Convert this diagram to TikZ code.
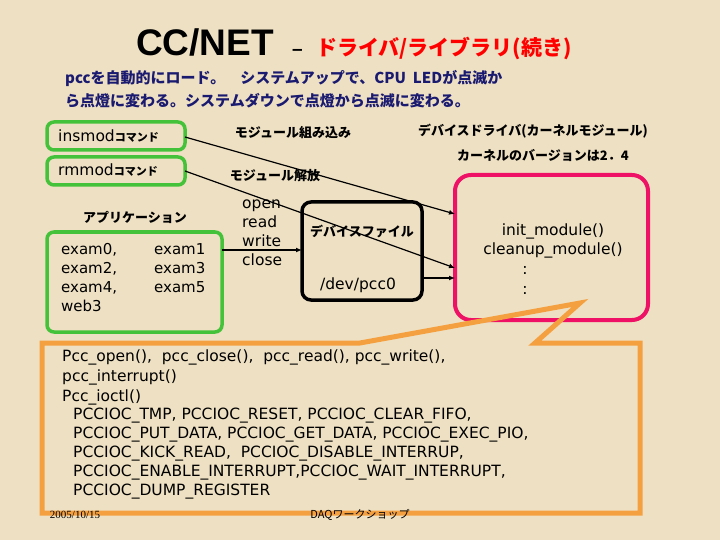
\documentclass[tikz,border=0pt]{standalone}
\usepackage{fontspec}
\setmainfont{Liberation Sans}
\newfontfamily\jp{Noto Sans CJK JP}
\newfontfamily\wide{DejaVu Sans}
\usetikzlibrary{arrows.meta}
\definecolor{bg}{HTML}{EEE0C2}
\definecolor{navy}{HTML}{1A1A70}
\definecolor{grn}{HTML}{44C23A}
\definecolor{pnk}{HTML}{EE1166}
\definecolor{org}{HTML}{F5A040}
\tikzset{
 gbox/.style={draw=grn,line width=3.5pt,rounded corners=7pt},
 conn/.style={-{Latex[length=6pt,width=5pt]},line width=1.2pt},
 jl/.style={font=\jp\bfseries\fontsize{13}{15}\selectfont,inner sep=0},
 tx/.style={font=\wide\fontsize{15.5}{17}\selectfont,inner sep=0,anchor=west},
 ot/.style={font=\wide\fontsize{15.5}{18}\selectfont,inner sep=0,anchor=west}
}
\begin{document}
\begin{tikzpicture}[x=1pt,y=-1pt]
\fill[bg] (0,0) rectangle (720,540);
\useasboundingbox (0,0) rectangle (720,540);
\node[inner sep=0,font=\bfseries\fontsize{37}{40}\selectfont,anchor=base] (t1) at (205,56) {CC/NET};
\node[inner sep=0,anchor=base west,font=\bfseries\fontsize{19}{22}\selectfont] (t0) at (292,56) {–};
\node[inner sep=0,anchor=base west,text=red,font=\jp\bfseries\fontsize{21}{24}\selectfont] (t2) at (316,56) {ドライバ/ライブラリ(続き)};
\node[inner sep=0,anchor=base west,text=navy,font=\jp\bfseries\fontsize{15}{18}\selectfont] (s1) at (65,84) {pccを自動的にロード。\quad システムアップで、CPU\ \ LEDが点滅か};
\node[inner sep=0,anchor=base west,text=navy,font=\jp\bfseries\fontsize{15}{18}\selectfont] (s2) at (65,107) {ら点燈に変わる。システムダウンで点燈から点滅に変わる。};
% boxes
\draw[gbox] (47,122) rectangle (185,150);
\node[tx] (ins) at (58,136) {insmod{\jp\bfseries\fontsize{11}{12}\selectfont コマンド}};
\coordinate (insr) at (185,137);
\draw[gbox] (47,157) rectangle (185,185);
\node[tx] (rm) at (58,170) {rmmod{\jp\bfseries\fontsize{11}{12}\selectfont コマンド}};
\coordinate (rmr) at (185,171);
\draw[gbox] (47,232) rectangle (222,332);
\coordinate (appr) at (222,250);
\node[jl] (app) at (135,217) {アプリケーション};
\node[tx,align=left,anchor=north west,font=\wide\fontsize{15}{19}\selectfont] (ex1) at (61,243) {exam0,\\exam2,\\exam4,\\web3};
\node[tx,align=left,anchor=north west,font=\wide\fontsize{15}{19}\selectfont] (ex2) at (154,243) {exam1\\exam3\\exam5};
\node[tx,align=left,anchor=north west,font=\wide\fontsize{15.5}{19}\selectfont] (ops) at (242,200) {open\\read\\write\\close};
\draw[line width=3.5pt,rounded corners=9pt] (302,202) rectangle (422,300);
\coordinate (devl) at (302,250);
\coordinate (devr) at (422,278);
\node[jl] (df) at (362,231) {デバイスファイル};
\node[tx,anchor=center] (dev) at (358,285) {/dev/pcc0};
\draw[draw=pnk,line width=4pt,rounded corners=16pt] (455,175) rectangle (648,320);
\coordinate (p1) at (455,214);
\coordinate (p2) at (455,268);
\coordinate (p3) at (455,278);
\node[tx,anchor=center] (im) at (553,231) {init\_module()};
\node[tx,anchor=center] (cm) at (553,250) {cleanup\_module()};
\node[tx,anchor=center] (d1) at (525,270) {:};
\node[tx,anchor=center] (d2) at (525,290) {:};
\node[jl] (k1) at (293,133) {モジュール組み込み};
\node[jl] (k2) at (533,131) {デバイスドライバ(カーネルモジュール)};
\node[jl] (k3) at (543,155) {カーネルのバージョンは2．4};
\node[jl] (k4) at (275,176) {モジュール解放};
\draw[conn] (insr) -- (p1);
\draw[conn] (rmr) -- (p2);
\draw[conn] (appr) -- (devl);
\draw[conn] (devr) -- (p3);
% orange callout
\draw[org,line width=5pt,line join=miter] (42,343) -- (360,343) -- (580,303) -- (535,343) -- (640,343) -- (640,513) -- (42,513) -- cycle;
\node[ot] (o1) at (62,357) {Pcc\_open(), \ pcc\_close(), \ pcc\_read(), pcc\_write(),};
\node[ot] (o2) at (62,377) {pcc\_interrupt()};
\node[ot] (o3) at (62,397) {Pcc\_ioctl()};
\node[ot] (o4) at (73,416) {PCCIOC\_TMP, PCCIOC\_RESET, PCCIOC\_CLEAR\_FIFO,};
\node[ot] (o5) at (73,435) {PCCIOC\_PUT\_DATA, PCCIOC\_GET\_DATA, PCCIOC\_EXEC\_PIO,};
\node[ot] (o6) at (73,454) {PCCIOC\_KICK\_READ, \ PCCIOC\_DISABLE\_INTERRUP,};
\node[ot] (o7) at (73,473) {PCCIOC\_ENABLE\_INTERRUPT,PCCIOC\_WAIT\_INTERRUPT,};
\node[ot] (o8) at (73,492) {PCCIOC\_DUMP\_REGISTER};
\node[inner sep=0,font=\fontspec{Liberation Serif}\fontsize{11}{12}\selectfont] (f1) at (75,515) {2005/10/15};
\node[inner sep=0,font=\jp\fontsize{11}{12}\selectfont] (f2) at (360,515) {DAQワークショップ};
\end{tikzpicture}
\end{document}
